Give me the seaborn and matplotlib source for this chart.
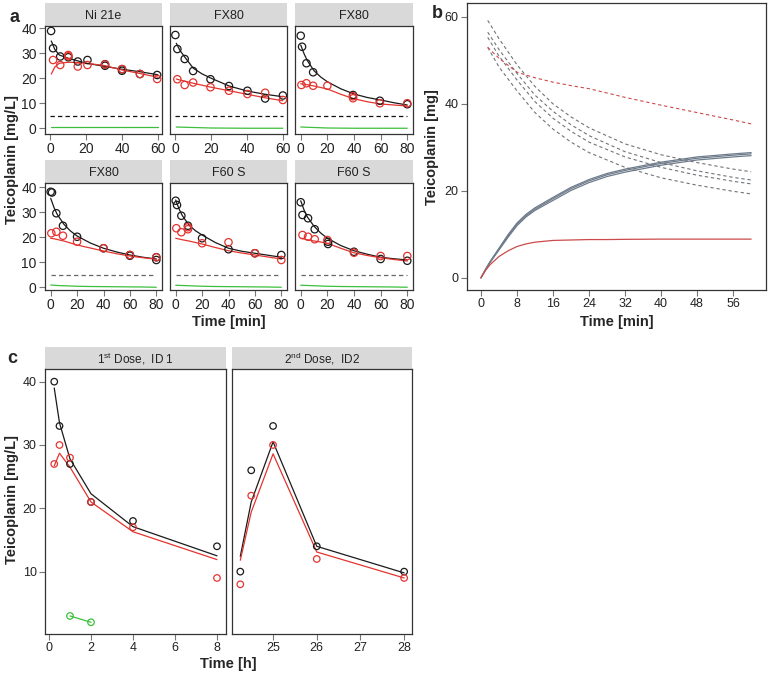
import matplotlib
matplotlib.use("Agg")
import matplotlib.pyplot as plt
import seaborn as sns

# ---------------------------------------------------------------------------
# panel a : dialysis facets (black = inlet, red = outlet, green = effluent)
# ---------------------------------------------------------------------------
a_titles = ["Ni 21e", "FX80", "FX80", "FX80", "F60 S", "F60 S"]
a_xmax = [60, 60, 80, 80, 80, 80]
a_cutoff = 5

a_fit_t60 = [0.5, 2.5, 5, 10, 15, 20, 30, 40, 50, 60]
a_fit_t80 = [0, 2.5, 5, 10, 15, 20, 30, 40, 50, 60, 70, 80]

a1_obs_kt = [0.4, 1.5, 5.5, 10, 15.3, 20.7, 30.5, 30.5, 40, 40, 50, 59.6]
a1_obs_k = [38.9, 32, 28.7, 28.4, 26.7, 27.3, 25.6, 25.0, 23.6, 23.0, 21.7, 21.3]
a1_obs_rt = [1.5, 5.5, 10, 10, 15.3, 20.7, 30.5, 40, 50, 59.6]
a1_obs_r = [27.3, 25.3, 29.3, 28.8, 24.7, 25.3, 25.5, 23.7, 21.7, 19.7]
a1_fit_k = [34.9, 31.5, 29.3, 28.0, 27.0, 26.0, 24.8, 23.6, 22.6, 21.4]
a1_fit_r = [21.7, 24.5, 26.0, 26.4, 26.3, 26.0, 25.1, 23.3, 21.9, 20.4]
a1_green = [0.4, 0.4, 0.4, 0.4, 0.4, 0.4, 0.4, 0.4, 0.4, 0.4]

a2_obs_kt = [0, 1.1, 5.2, 9.9, 19.6, 29.9, 40.2, 50.1, 60]
a2_obs_k = [37.3, 31.7, 27.7, 22.9, 19.6, 16.9, 15.0, 11.9, 13.1]
a2_obs_rt = [1.1, 5.2, 9.9, 19.6, 29.9, 40.2, 50.1, 60]
a2_obs_r = [19.6, 17.3, 18.3, 16.4, 15.0, 13.7, 14.2, 11.3]
a2_fit_k = [34.0, 31.2, 28.7, 24.0, 21.7, 20.0, 16.9, 14.9, 13.6, 12.6]
a2_fit_r = [19.7, 19.3, 18.9, 18.0, 17.2, 16.4, 15.0, 13.6, 12.2, 11.0]
a2_green = [0.5, 0.45, 0.4, 0.3, 0.2, 0.1, 0.05, 0.0, 0.0, 0.0]

a3_obs_kt = [0, 1, 4.3, 9.3, 39.3, 59.4, 80]
a3_obs_k = [37, 32.6, 26, 22.4, 13.3, 11, 9.6]
a3_obs_rt = [0.5, 4.3, 9.3, 20, 39.3, 39.3, 59.4, 80]
a3_obs_r = [17.3, 18, 17, 17, 12.8, 12, 10, 10]
a3_fit_k = [33.3, 29.8, 27.0, 23.0, 20.5, 18.6, 15.8, 13.7, 12.3, 11.3, 10.2, 9.3]
a3_fit_r = [17.8, 17.6, 17.4, 16.9, 16.3, 15.7, 13.6, 11.8, 10.6, 9.7, 9.3, 8.9]
a3_green = [0.5, 0.45, 0.4, 0.3, 0.2, 0.1, 0.05, 0.0, 0.0, 0.0, 0.0, 0.0]

a4_obs_kt = [0, 1, 4.3, 9.3, 20, 40, 60, 60, 80, 80]
a4_obs_k = [38.3, 38, 29.7, 24.7, 20.3, 15.7, 13, 12.7, 11, 12.1]
a4_obs_rt = [0.5, 4.3, 9.3, 20, 40, 60, 80]
a4_obs_r = [21.7, 22.3, 20.7, 18.3, 15.7, 13, 12.1]
a4_fit_k = [35.7, 32.0, 29.2, 25.3, 22.6, 20.6, 17.8, 15.7, 14.2, 13.0, 12.1, 11.4]
a4_fit_r = [19.7, 19.5, 19.2, 18.6, 17.8, 17.0, 15.8, 14.6, 13.5, 12.6, 11.9, 11.3]
a4_green = [1.0, 0.9, 0.8, 0.7, 0.6, 0.5, 0.4, 0.35, 0.3, 0.25, 0.2, 0.1]

a5_obs_kt = [0, 1, 4.3, 9.3, 20, 40, 60, 80]
a5_obs_k = [34.7, 33, 28.7, 24.7, 19.7, 15.3, 13.7, 13]
a5_obs_rt = [0.5, 4.3, 9.3, 9.3, 20, 40, 60, 80]
a5_obs_r = [23.7, 22.1, 24.1, 23.3, 17.7, 18.1, 13.7, 11]
a5_fit_k = [35.0, 31.5, 28.8, 25.0, 22.7, 21.0, 18.0, 15.7, 14.5, 13.7, 12.9, 12.1]
a5_fit_r = [19.7, 19.4, 19.1, 18.6, 18.0, 17.4, 16.0, 14.7, 13.8, 13.0, 12.2, 11.4]
a5_green = [0.9, 0.85, 0.8, 0.7, 0.6, 0.5, 0.4, 0.35, 0.3, 0.25, 0.2, 0.1]

a6_obs_kt = [0, 1.3, 5.5, 10.5, 20.5, 20.5, 40, 60, 80]
a6_obs_k = [34.1, 29, 27.7, 23.3, 17.4, 18.3, 14.3, 11.4, 10.7]
a6_obs_rt = [1.3, 5.5, 10.5, 20, 40, 60, 80]
a6_obs_r = [21, 20.3, 19.3, 19, 13.9, 12.6, 12.6]
a6_fit_k = [34.7, 31.0, 28.2, 24.5, 21.8, 19.7, 16.8, 14.7, 13.3, 12.1, 11.5, 11.0]
a6_fit_r = [19.7, 19.4, 19.1, 18.6, 18.2, 17.7, 15.7, 13.9, 12.8, 11.9, 11.2, 10.6]
a6_green = [0.9, 0.85, 0.8, 0.7, 0.6, 0.5, 0.4, 0.35, 0.3, 0.25, 0.2, 0.1]

# ---------------------------------------------------------------------------
# panel b : amounts over time
# ---------------------------------------------------------------------------
b_t_up = [0, 1, 2, 4, 6, 8, 10, 12, 16, 20, 24, 28, 32, 40, 48, 56, 60]
b_up1 = [0, 1.9, 3.7, 6.8, 9.9, 12.6, 14.6, 16.1, 18.5, 20.8, 22.6, 24.0, 25.0, 26.6, 27.8, 28.5, 28.8]
b_up2 = [0, 1.9, 3.6, 6.6, 9.6, 12.3, 14.3, 15.8, 18.2, 20.5, 22.3, 23.7, 24.7, 26.3, 27.5, 28.2, 28.5]
b_up3 = [0, 1.8, 3.5, 6.4, 9.3, 12.0, 14.0, 15.5, 17.8, 20.1, 21.9, 23.3, 24.3, 25.9, 27.1, 27.8, 28.1]
b_up_red = [0, 1.7, 3.0, 4.9, 6.2, 7.2, 7.8, 8.2, 8.6, 8.7, 8.8, 8.8, 8.85, 8.9, 8.9, 8.9, 8.9]

b_t_down = [1.5, 4, 8, 12, 16, 20, 24, 32, 40, 48, 56, 60]
b_down1 = [59.2, 55.0, 49.0, 44.0, 40.0, 37.0, 34.5, 30.8, 28.3, 26.5, 25.0, 24.4]
b_down2 = [56.5, 52.5, 47.0, 42.0, 38.3, 35.2, 32.7, 29.0, 26.5, 24.6, 23.1, 22.5]
b_down3 = [55.3, 51.0, 45.5, 40.5, 36.7, 33.7, 31.2, 27.8, 25.4, 23.6, 22.2, 21.6]
b_down4 = [53.0, 48.5, 43.0, 38.0, 34.2, 31.2, 28.8, 25.4, 23.0, 21.3, 19.9, 19.3]
b_down_red = [53.0, 50.5, 47.3, 46.0, 45.0, 44.2, 43.5, 41.5, 39.7, 38.0, 36.3, 35.4]

# ---------------------------------------------------------------------------
# panel c : patient samples
# ---------------------------------------------------------------------------
c_titles = [r"1$^{\rm st}$ Dose,  ID 1", r"2$^{\rm nd}$ Dose,  ID2"]

c1_t = [0.25, 0.5, 1, 2, 4, 8]
c1_obs_k = [40, 33, 27, 21, 18, 14]
c1_obs_r = [27, 30, 28, 21, 17, 9]
c1_fit_k = [39, 33.5, 27.8, 22.3, 17.1, 12.5]
c1_fit_r = [26.7, 28.7, 26.5, 21, 16.3, 11.9]
c1_green_t = [1, 2]
c1_green = [3, 2]

c2_t = [24.25, 24.5, 25, 26, 28]
c2_obs_k = [10, 26, 33, 14, 10]
c2_obs_r = [8, 22, 30, 12, 9]
c2_fit_k = [12.4, 21, 30.5, 14, 9.8]
c2_fit_r = [11.8, 19.4, 28.6, 13.1, 9.0]

# ---------------------------------------------------------------------------
BLACK, RED, GREEN = "#1a1a1a", "#e3342f", "#3cbf3c"
B_GREY, B_DASH, B_RED = "#6e7b8b", "#707478", "#cc4a4a"
W, H = 768, 675

sns.set_style("white")
plt.rcParams["font.family"] = ["Liberation Sans", "DejaVu Sans"]
plt.rcParams["mathtext.fontset"] = "custom"
plt.rcParams["mathtext.rm"] = "Liberation Sans"

fig = plt.figure(figsize=(W / 100, H / 100), dpi=100)


def px_axes(x0, y0, x1, y1):
    return fig.add_axes([x0 / W, 1 - y1 / H, (x1 - x0) / W, (y1 - y0) / H])


def strip(x0, y0, x1, y1, label, size=9):
    s = px_axes(x0, y0, x1, y1)
    s.set_facecolor("#d9d9d9")
    s.set_xticks([]); s.set_yticks([])
    for sp in s.spines.values():
        sp.set_visible(False)
    s.text(0.5, 0.45, label, ha="center", va="center", fontsize=size, color="#222")


def style(ax, size=9):
    for sp in ax.spines.values():
        sp.set_visible(True)
        sp.set_color("#333333")
        sp.set_linewidth(0.9)
    ax.tick_params(direction="out", length=4, width=0.8, color="#777777",
                   labelsize=size, pad=2, labelcolor="#222",
                   bottom=True, left=True)
    ax.set_xlabel(""); ax.set_ylabel("")


def pts(ax, x, y, col, s=28):
    sns.scatterplot(x=x, y=y, ax=ax, marker="o", s=s, facecolor="none",
                    edgecolor=col, linewidth=0.9, zorder=3, legend=False)


def line(ax, x, y, col, lw=0.9, ls="-"):
    sns.lineplot(x=x, y=y, ax=ax, color=col, lw=lw, ls=ls,
                 estimator=None, sort=False, legend=False)


# ---- panel a ----
a_data = [
    (a1_obs_kt, a1_obs_k, a1_obs_rt, a1_obs_r, a_fit_t60, a1_fit_k, a1_fit_r, a1_green),
    (a2_obs_kt, a2_obs_k, a2_obs_rt, a2_obs_r, a_fit_t60, a2_fit_k, a2_fit_r, a2_green),
    (a3_obs_kt, a3_obs_k, a3_obs_rt, a3_obs_r, a_fit_t80, a3_fit_k, a3_fit_r, a3_green),
    (a4_obs_kt, a4_obs_k, a4_obs_rt, a4_obs_r, a_fit_t80, a4_fit_k, a4_fit_r, a4_green),
    (a5_obs_kt, a5_obs_k, a5_obs_rt, a5_obs_r, a_fit_t80, a5_fit_k, a5_fit_r, a5_green),
    (a6_obs_kt, a6_obs_k, a6_obs_rt, a6_obs_r, a_fit_t80, a6_fit_k, a6_fit_r, a6_green),
]
a_cols = [(45, 162), (170, 287), (295, 413)]
a_rows = [(3, 26, 134, (-2.3, 40.9), "#111111"), (160, 183, 290, (-1.0, 41.8), "#666666")]

for i, (kt, k, rt, r, ft, fk, fr, g) in enumerate(a_data):
    row, col = divmod(i, 3)
    st, top, bot, ylim, dash_col = a_rows[row]
    x0, x1 = a_cols[col]
    strip(x0, st, x1, top, a_titles[i])
    ax = px_axes(x0, top, x1, bot)
    xm = a_xmax[i]
    line(ax, [0, xm], [a_cutoff, a_cutoff], dash_col, lw=0.9, ls=(0, (3.5, 2.5)))
    line(ax, ft, g, GREEN, lw=0.9)
    line(ax, ft, fk, BLACK)
    line(ax, ft, fr, RED)
    pts(ax, kt, k, BLACK)
    pts(ax, rt, r, RED)
    ax.set_xlim((-3, 62.3) if xm == 60 else (-4.3, 84.3))
    ax.set_ylim(*ylim)
    ax.set_xticks(range(0, xm + 1, 20))
    ax.set_yticks([0, 10, 20, 30, 40])
    style(ax, 10)
    if col > 0:
        ax.tick_params(axis="y", left=False, labelleft=False)

fig.text(14 / W, 1 - 17 / H, "a", fontsize=13, fontweight="bold", ha="center", va="center")
fig.text(12 / W, 1 - 160 / H, "Teicoplanin [mg/L]", rotation=90, fontsize=10.5,
         fontweight="bold", ha="center", va="center")
fig.text(229 / W, 1 - 322 / H, "Time [min]", fontsize=10.5, fontweight="bold",
         ha="center", va="center")

# ---- panel b ----
axb = px_axes(467, 3, 766, 290)
for yv in (b_up1, b_up2, b_up3):
    line(axb, b_t_up, yv, B_GREY, lw=0.9)
line(axb, b_t_up, b_up_red, B_RED, lw=0.9)
for yv in (b_down1, b_down2, b_down3, b_down4):
    line(axb, b_t_down, yv, B_DASH, lw=0.8, ls=(0, (3, 2.5)))
line(axb, b_t_down, b_down_red, B_RED, lw=0.8, ls=(0, (3, 2.5)))
axb.set_xlim(-3.1, 63.3)
axb.set_ylim(-2.8, 63.2)
axb.set_xticks(range(0, 57, 8))
axb.set_yticks([0, 20, 40, 60])
style(axb, 9)
fig.text(437 / W, 1 - 13 / H, "b", fontsize=13, fontweight="bold", ha="center", va="center")
fig.text(432 / W, 1 - 147 / H, "Teicoplanin [mg]", rotation=90, fontsize=10.5,
         fontweight="bold", ha="center", va="center")
fig.text(617 / W, 1 - 322 / H, "Time [min]", fontsize=10.5, fontweight="bold",
         ha="center", va="center")

# ---- panel c ----
strip(45, 347, 226, 369, c_titles[0], 8.5)
axc1 = px_axes(45, 369, 226, 634)
line(axc1, c1_t, c1_fit_k, BLACK)
line(axc1, c1_t, c1_fit_r, RED)
line(axc1, c1_green_t, c1_green, GREEN)
pts(axc1, c1_t, c1_obs_k, BLACK, 22)
pts(axc1, c1_t, c1_obs_r, RED, 22)
pts(axc1, c1_green_t, c1_green, GREEN, 22)
axc1.set_xlim(-0.19, 8.43)
axc1.set_ylim(0.15, 42)
axc1.set_xticks([0, 2, 4, 6, 8])
axc1.set_yticks([10, 20, 30, 40])
style(axc1, 9)

strip(232, 347, 412, 369, c_titles[1], 8.5)
axc2 = px_axes(232, 369, 412, 634)
line(axc2, c2_t, c2_fit_k, BLACK)
line(axc2, c2_t, c2_fit_r, RED)
pts(axc2, c2_t, c2_obs_k, BLACK, 22)
pts(axc2, c2_t, c2_obs_r, RED, 22)
axc2.set_xlim(24.06, 28.18)
axc2.set_ylim(0.15, 42)
axc2.set_xticks([25, 26, 27, 28])
style(axc2, 9)
axc2.tick_params(axis="y", left=False, labelleft=False)

fig.text(12 / W, 1 - 359 / H, "c", fontsize=13, fontweight="bold", ha="center", va="center")
fig.text(12 / W, 1 - 500 / H, "Teicoplanin [mg/L]", rotation=90, fontsize=10.5,
         fontweight="bold", ha="center", va="center")
fig.text(228 / W, 1 - 664 / H, "Time [h]", fontsize=10.5, fontweight="bold",
         ha="center", va="center")

fig.savefig("out.png", dpi=100)
